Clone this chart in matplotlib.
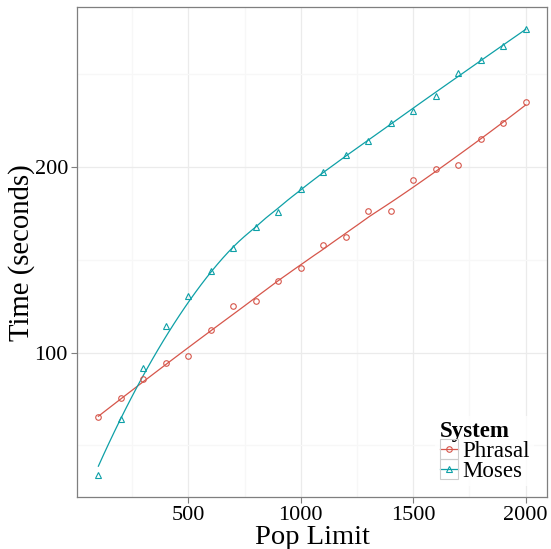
import numpy as np
import matplotlib
matplotlib.use('Agg')
import matplotlib.pyplot as plt
from matplotlib.patches import Rectangle

pop_limit = [100, 200, 300, 400, 500, 600, 700, 800, 900, 1000,
             1100, 1200, 1300, 1400, 1500, 1600, 1700, 1800, 1900, 2000]
phrasal = [65.1, 75.7, 85.6, 94.2, 98.4, 112.0, 125.0, 128.1, 138.8, 145.5,
           158.1, 162.1, 176.6, 176.2, 193.0, 198.9, 201.1, 215.1, 223.7, 235.3]
moses = [34.2, 64.2, 91.7, 114.2, 130.4, 143.9, 156.5, 167.5, 176.0, 188.0,
         197.6, 206.4, 214.3, 223.7, 230.2, 238.2, 250.7, 257.6, 265.5, 274.3]

RED = '#d6564b'
TEAL = '#0ea0a7'

plt.rcParams['font.family'] = ['Liberation Serif', 'DejaVu Serif']


def loess(x, y, xs, span=0.75):
    # local quadratic fit with tricube weights (like R's loess default)
    x = np.asarray(x, float)
    y = np.asarray(y, float)
    q = int(np.floor(len(x) * span))
    out = []
    for x0 in xs:
        d = np.abs(x - x0)
        h = np.sort(d)[q - 1]
        w = np.clip(1 - (d / h) ** 3, 0, None) ** 3
        A = np.vstack([np.ones_like(x), x - x0, (x - x0) ** 2]).T
        W = np.sqrt(w)
        coef = np.linalg.lstsq(A * W[:, None], y * W, rcond=None)[0]
        out.append(coef[0])
    return np.array(out)


W_PX, H_PX = 551, 549
fig = plt.figure(figsize=(W_PX / 100, H_PX / 100), dpi=100)
ax = fig.add_axes([77 / W_PX, 1 - 497 / H_PX, 470 / W_PX, 490 / H_PX])

xs = np.linspace(min(pop_limit), max(pop_limit), 80)
for vals, col, mk, ms, name in [(phrasal, RED, 'o', 4.0, 'Phrasal'),
                                (moses, TEAL, '^', 5.0, 'Moses')]:
    ax.plot(xs, loess(pop_limit, vals, xs), color=col, lw=0.9, zorder=3)
    ax.plot(pop_limit, vals, linestyle='none', marker=mk, ms=ms, mfc='none',
            mec=col, mew=0.8, zorder=4)
    ax.plot([], [], color=col, lw=0.9, marker=mk, ms=ms, mfc='none', mec=col,
            mew=0.8, label=name)

allv = phrasal + moses
r = max(allv) - min(allv)
ax.set_ylim(min(allv) - 0.05 * r, max(allv) + 0.05 * r)
xr = max(pop_limit) - min(pop_limit)
ax.set_xlim(min(pop_limit) - 0.05 * xr, max(pop_limit) + 0.05 * xr)

ax.set_xticks([500, 1000, 1500, 2000])
ax.set_xticks([250, 750, 1250, 1750], minor=True)
ax.set_yticks([100, 200])
ax.set_yticks([50, 150, 250], minor=True)
ax.grid(which='major', color='#ebebeb', lw=0.9, zorder=0)
ax.grid(which='minor', color='#f7f7f7', lw=0.9, zorder=0)
ax.set_axisbelow(True)
ax.tick_params(which='major', length=4.5, width=0.8, color='#7f7f7f',
               labelsize=16, pad=2, labelcolor='black')
ax.tick_params(which='minor', length=0)
for s in ax.spines.values():
    s.set_color('#7f7f7f')
    s.set_linewidth(0.9)

fig.text(312 / W_PX, 1 - 544 / H_PX, 'Pop Limit', fontsize=20.5,
         ha='center', va='baseline')
fig.text(22 / W_PX, 1 - 253 / H_PX, 'Time (seconds)', fontsize=20.7,
         rotation=90, ha='center', va='center')

pad = 0.2 * 16.5 * 100 / 72
leg = ax.legend(loc='upper left',
                bbox_to_anchor=((440 - pad) / W_PX, 1 - (421 - pad) / H_PX),
                bbox_transform=fig.transFigure, frameon=True,
                title='System', title_fontproperties={'weight': 'bold', 'size': 16.5},
                fontsize=16.5, handlelength=0.79, handletextpad=0.17,
                labelspacing=-0.05, borderpad=0.2, borderaxespad=0.0,
                alignment='left', fancybox=False)
leg.get_frame().set_facecolor('white')
leg.get_frame().set_edgecolor('none')

# grey key boxes around the legend handles, as in ggplot's theme_bw
fig.canvas.draw()
rend = fig.canvas.get_renderer()
for h in leg.legend_handles:
    bb = h.get_window_extent(rend)
    cx, cy = (bb.x0 + bb.x1) / 2, (bb.y0 + bb.y1) / 2
    leg_box = Rectangle(((cx - 9) / W_PX, (cy - 9.75) / H_PX), 18 / W_PX, 19.5 / H_PX,
                        transform=fig.transFigure, fill=False,
                        edgecolor='#cccccc', lw=0.8, zorder=5)
    fig.patches.append(leg_box)

fig.savefig('out.png', dpi=100)
